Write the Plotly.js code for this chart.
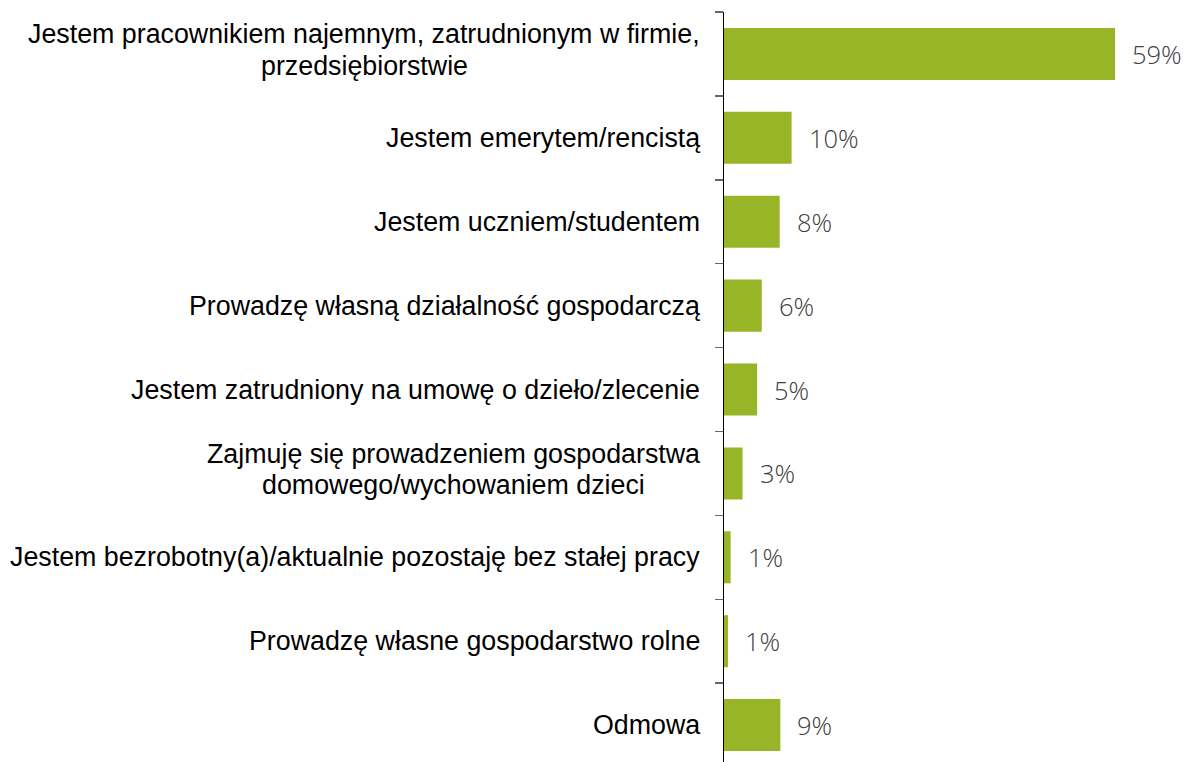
<!DOCTYPE html>
<html>
<head>
<meta charset="utf-8">
<script src="https://cdn.plot.ly/plotly-3.0.1.min.js"></script>
<style>html,body{margin:0;padding:0;background:#fff;}#chart{width:1188px;height:762px;}</style>
</head>
<body>
<div id="chart"></div>
<script>
const categories = [
  "Jestem pracownikiem najemnym, zatrudnionym w firmie,<br>przedsiębiorstwie",
  "Jestem emerytem/rencistą",
  "Jestem uczniem/studentem",
  "Prowadzę własną działalność gospodarczą",
  "Jestem zatrudniony na umowę o dzieło/zlecenie",
  "Zajmuję się prowadzeniem gospodarstwa<br>domowego/wychowaniem dzieci",
  "Jestem bezrobotny(a)/aktualnie pozostaję bez stałej pracy",
  "Prowadzę własne gospodarstwo rolne",
  "Odmowa"
];
const values = [59, 10.2, 8.4, 5.7, 5.0, 2.8, 1.0, 0.6, 8.5];
const valueLabels = ["59%", "10%", "8%", "6%", "5%", "3%", "1%", "1%", "9%"];

const labelFontFamily = "Arial, 'Liberation Sans', sans-serif";
const labelFontSize = 26.8;
const labelGap = 24;      // px from axis to right edge of label block
const lineStep = 31.5;    // px between lines of a wrapped label

const trace = {
  type: "bar",
  orientation: "h",
  y: categories,
  x: values,
  marker: {color: "#97b526"},
  width: 0.62,
  hoverinfo: "skip"
};

const canvas = document.createElement("canvas");
const ctx = canvas.getContext("2d");
ctx.font = labelFontSize + "px " + labelFontFamily;

const annotations = [];
categories.forEach((cat, i) => {
  const lines = cat.split("<br>");
  const maxW = Math.max(...lines.map(l => ctx.measureText(l).width));
  const n = lines.length;
  lines.forEach((line, k) => {
    annotations.push({
      x: 0, y: cat, xref: "x", yref: "y",
      text: line, showarrow: false,
      xanchor: "center", yanchor: "middle",
      xshift: -labelGap - maxW / 2,
      yshift: n > 1 ? -((k - (n - 1) / 2) * lineStep - 4) : 0,
      font: {family: labelFontFamily, size: labelFontSize, color: "#000"}
    });
  });
});

values.forEach((v, i) => {
  annotations.push({
    x: v, y: categories[i], xref: "x", yref: "y",
    text: valueLabels[i], showarrow: false,
    xanchor: "left", yanchor: "middle", xshift: 15,
    font: {family: "'Open Sans', sans-serif", size: 25.5, color: "#404040", weight: 300}
  });
});

const layout = {
  width: 1188, height: 762,
  margin: {l: 724, r: 0, t: 12, b: 0},
  paper_bgcolor: "#fff", plot_bgcolor: "#fff",
  showlegend: false,
  xaxis: {range: [0, 70], visible: false, fixedrange: true},
  yaxis: {
    type: "category",
    categoryorder: "array", categoryarray: categories,
    range: [8.44, -0.5],
    tickson: "boundaries",
    ticks: "outside", ticklen: 8, tickwidth: 1.5, tickcolor: "#666",
    showline: true, linecolor: "#000", linewidth: 1.5,
    showgrid: false, zeroline: false,
    showticklabels: false,
    fixedrange: true
  },
  annotations: annotations
};

Plotly.newPlot("chart", [trace], layout, {displayModeBar: false, staticPlot: true});
</script>
</body>
</html>
